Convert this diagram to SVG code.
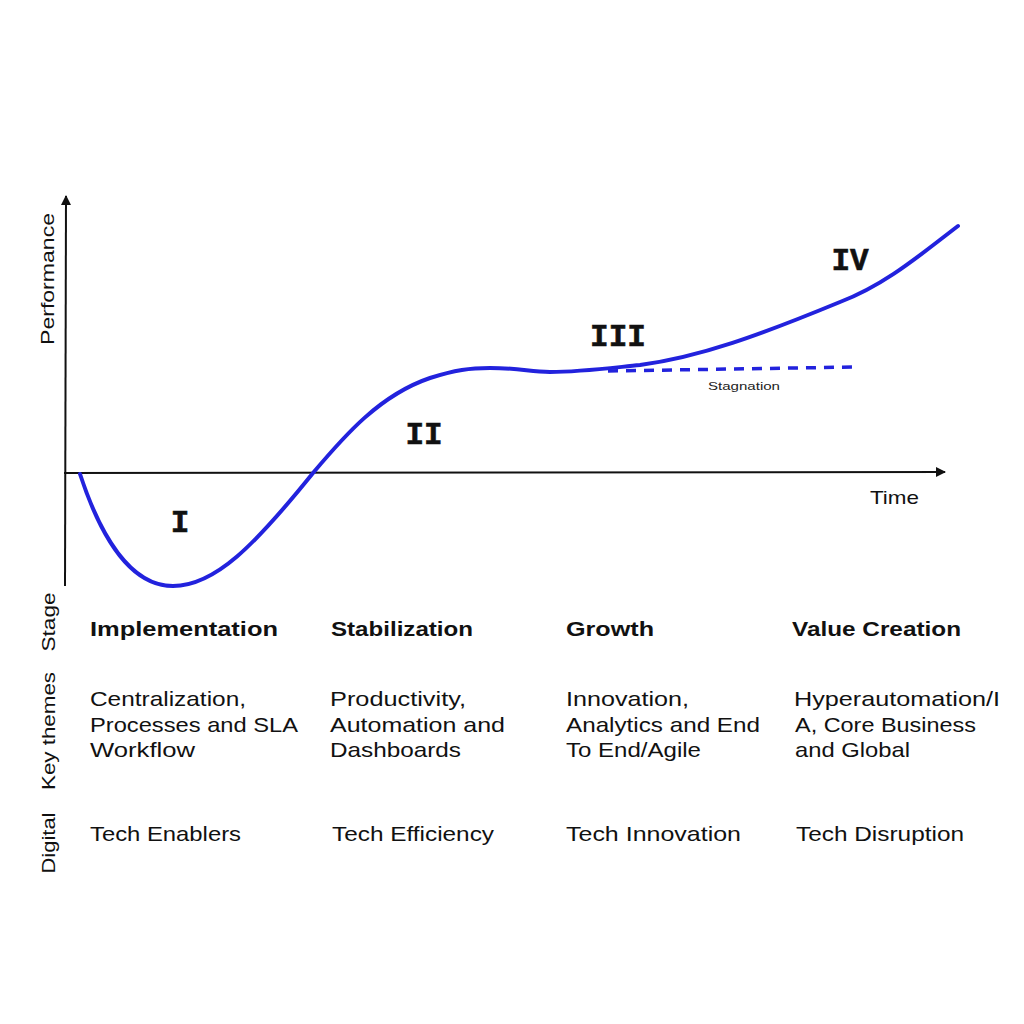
<svg xmlns="http://www.w3.org/2000/svg" width="1024" height="1024" viewBox="0 0 1024 1024">
<defs>
<marker id="arr" viewBox="0 0 10 10" refX="9" refY="5" markerWidth="10" markerHeight="10" markerUnits="userSpaceOnUse" orient="auto">
<path d="M0,0 L10,5 L0,10 z" fill="#111"/>
</marker>
<style>
.ax{stroke:#111;stroke-width:2;fill:none}
.curve{stroke:#2222dd;stroke-width:4;fill:none;stroke-linecap:round}
.dash{stroke:#2222dd;stroke-width:3.5;fill:none;stroke-dasharray:10 8}
.rn{font-family:"Liberation Mono",monospace;font-weight:bold;font-size:31px;fill:#111;text-anchor:middle;stroke:#111;stroke-width:0.6}
.lbl{font-family:"Liberation Sans",Arial,sans-serif;font-size:19px;fill:#111}
.hd{font-family:"Liberation Sans",Arial,sans-serif;font-weight:bold;font-size:21px;fill:#111}
.tx{font-family:"Liberation Sans",Arial,sans-serif;font-size:21px;fill:#111}
.sm{font-family:"Liberation Sans",Arial,sans-serif;font-size:11px;fill:#222}
</style>
</defs>
<rect width="1024" height="1024" fill="#fff"/>
<g id="axes">
<line class="ax" x1="65" y1="586" x2="66" y2="196" marker-end="url(#arr)"/>
<line class="ax" x1="64" y1="473" x2="945" y2="472" marker-end="url(#arr)"/>
<text class="lbl" transform="translate(54,279) rotate(-90)" text-anchor="middle" textLength="132" lengthAdjust="spacingAndGlyphs">Performance</text>
<text class="lbl" x="870" y="504" textLength="49" lengthAdjust="spacingAndGlyphs">Time</text>
</g>
<g id="connectors">
<path class="curve" d="M80,474 C100,535 130,586 173,586 C215,586 255,545 313,473 C345,435 380,395 430,378 C455,370 470,368 490,368 C520,368 530,372 550,372 C580,372 610,368 640,365 C700,357 760,335 840,302 C885,285 920,255 958,226"/>
<line class="dash" x1="608" y1="371" x2="856" y2="367"/>
<text class="sm" x="708" y="390" textLength="72" lengthAdjust="spacingAndGlyphs">Stagnation</text>
</g>
<g id="stage-labels">
<text class="rn" x="180" y="532">I</text>
<text class="rn" x="424" y="444">II</text>
<text class="rn" x="618" y="346">III</text>
<text class="rn" x="850" y="270">IV</text>
</g>
<g id="row-labels">
<text class="lbl" transform="translate(55,622) rotate(-90)" text-anchor="middle" textLength="59" lengthAdjust="spacingAndGlyphs">Stage</text>
<text class="lbl" transform="translate(55,731) rotate(-90)" text-anchor="middle" textLength="118" lengthAdjust="spacingAndGlyphs">Key themes</text>
<text class="lbl" transform="translate(55,843) rotate(-90)" text-anchor="middle" textLength="61" lengthAdjust="spacingAndGlyphs">Digital</text>
</g>
<g id="col-implementation">
<text class="hd" x="90" y="636" textLength="188" lengthAdjust="spacingAndGlyphs">Implementation</text>
<text class="tx" x="90" y="706" textLength="156" lengthAdjust="spacingAndGlyphs">Centralization,</text>
<text class="tx" x="90" y="732" textLength="208" lengthAdjust="spacingAndGlyphs">Processes and SLA</text>
<text class="tx" x="90" y="757" textLength="105" lengthAdjust="spacingAndGlyphs">Workflow</text>
<text class="tx" x="90" y="841" textLength="151" lengthAdjust="spacingAndGlyphs">Tech Enablers</text>
</g>
<g id="col-stabilization">
<text class="hd" x="331" y="636" textLength="142" lengthAdjust="spacingAndGlyphs">Stabilization</text>
<text class="tx" x="330" y="706" textLength="136" lengthAdjust="spacingAndGlyphs">Productivity,</text>
<text class="tx" x="330" y="732" textLength="175" lengthAdjust="spacingAndGlyphs">Automation and</text>
<text class="tx" x="330" y="757" textLength="131" lengthAdjust="spacingAndGlyphs">Dashboards</text>
<text class="tx" x="332" y="841" textLength="162" lengthAdjust="spacingAndGlyphs">Tech Efficiency</text>
</g>
<g id="col-growth">
<text class="hd" x="566" y="636" textLength="88" lengthAdjust="spacingAndGlyphs">Growth</text>
<text class="tx" x="566" y="706" textLength="123" lengthAdjust="spacingAndGlyphs">Innovation,</text>
<text class="tx" x="566" y="732" textLength="194" lengthAdjust="spacingAndGlyphs">Analytics and End</text>
<text class="tx" x="566" y="757" textLength="135" lengthAdjust="spacingAndGlyphs">To End/Agile</text>
<text class="tx" x="566" y="841" textLength="175" lengthAdjust="spacingAndGlyphs">Tech Innovation</text>
</g>
<g id="col-value-creation">
<text class="hd" x="792" y="636" textLength="169" lengthAdjust="spacingAndGlyphs">Value Creation</text>
<text class="tx" x="794" y="706" textLength="206" lengthAdjust="spacingAndGlyphs">Hyperautomation/I</text>
<text class="tx" x="795" y="732" textLength="181" lengthAdjust="spacingAndGlyphs">A, Core Business</text>
<text class="tx" x="795" y="757" textLength="115" lengthAdjust="spacingAndGlyphs">and Global</text>
<text class="tx" x="796" y="841" textLength="168" lengthAdjust="spacingAndGlyphs">Tech Disruption</text>
</g>
</svg>
